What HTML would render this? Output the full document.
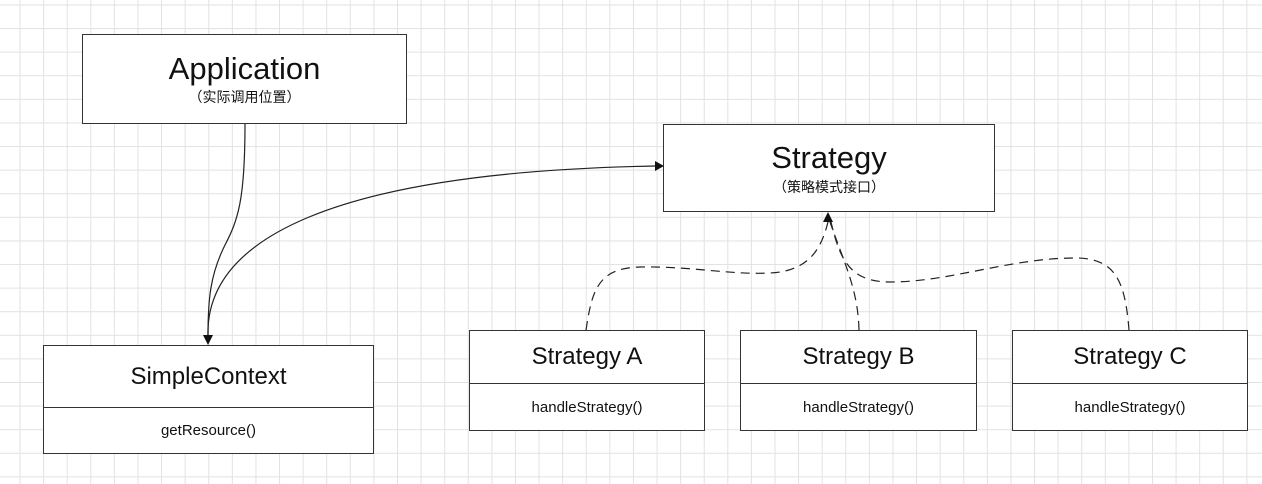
<!DOCTYPE html>
<html><head><meta charset="utf-8"><style>
html,body{margin:0;padding:0}
body{width:1262px;height:484px;position:relative;overflow:hidden;background:#fff;
background-image:linear-gradient(to right,#e2e2e2 1px,transparent 1px),linear-gradient(to bottom,#e2e2e2 1px,transparent 1px);
background-size:23.6px 23.6px;background-position:19.5px 4.5px;font-family:"Liberation Sans","Noto Sans CJK SC",sans-serif;color:#111}
.b{position:absolute;background:#fff;border:1px solid #333;box-sizing:border-box;text-align:center}
.t{font-size:31px;line-height:34px}
.s{font-size:14px;line-height:18px}
.h{border-bottom:1px solid #333;box-sizing:border-box;display:flex;align-items:center;justify-content:center;font-size:24px}
.m{display:flex;align-items:center;justify-content:center;font-size:15px}
svg{position:absolute;left:0;top:0}
</style></head><body>
<div class="b" style="left:82px;top:34px;width:325px;height:90px"><div class="t" style="margin-top:17px">Application</div><div class="s" style="margin-top:2px">（实际调用位置）</div></div>
<div class="b" style="left:663px;top:124px;width:332px;height:88px"><div class="t" style="margin-top:16px">Strategy</div><div class="s" style="margin-top:3px">（策略模式接口）</div></div>
<div class="b" style="left:43px;top:345px;width:331px;height:109px"><div class="h" style="height:62px">SimpleContext</div><div class="m" style="height:45px">getResource()</div></div>
<div class="b" style="left:469px;top:330px;width:236px;height:101px"><div class="h" style="height:53px">Strategy A</div><div class="m" style="height:46px">handleStrategy()</div></div>
<div class="b" style="left:740px;top:330px;width:237px;height:101px"><div class="h" style="height:53px">Strategy B</div><div class="m" style="height:46px">handleStrategy()</div></div>
<div class="b" style="left:1012px;top:330px;width:236px;height:101px"><div class="h" style="height:53px">Strategy C</div><div class="m" style="height:46px">handleStrategy()</div></div>
<svg width="1262" height="484" viewBox="0 0 1262 484">
<g fill="none" stroke="#222" stroke-width="1.2">
<path d="M245,124 C245,200 238,220 225,245 C210,275 208,300 208,336"/>
<path d="M208,336 C205,240 330,172 655,166"/>
<g stroke-dasharray="9,6">
<path d="M586,330 C592,290 598,268 640,267 C690,266 730,275 770,273 C812,271 822,245 828,222"/>
<path d="M859,330 C858,290 845,265 830,222"/>
<path d="M1129,330 C1125,280 1115,258 1075,258 C1010,258 950,282 890,282 C850,282 840,260 831,222"/>
</g>
</g>
<g fill="#111">
<polygon points="203,335 213,335 208,345"/>
<polygon points="655,161 655,171 664,166"/>
<polygon points="823,222 833,222 828,212"/>
</g>
</svg>
</body></html>
